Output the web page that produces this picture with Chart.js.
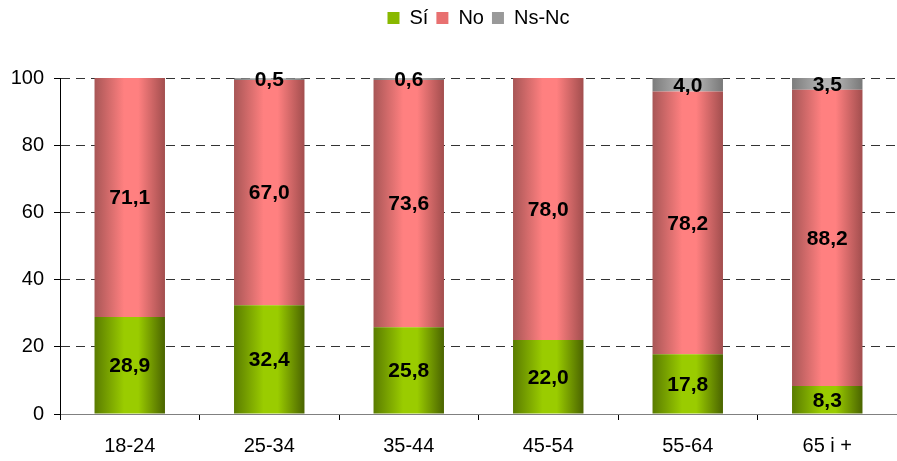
<!DOCTYPE html>
<html>
<head>
<meta charset="utf-8">
<script src="https://cdn.jsdelivr.net/npm/chart.js@4/dist/chart.umd.min.js"></script>
<style>
  html, body { margin: 0; padding: 0; background: #fff; overflow: hidden; }
  #wrap { width: 897px; height: 461px; position: relative; }
</style>
</head>
<body>
<div id="wrap"><canvas id="chart"></canvas></div>
<script>
const categories = ['18-24', '25-34', '35-44', '45-54', '55-64', '65 i +'];
const siValues = [28.9, 32.4, 25.8, 22.0, 17.8, 8.3];
const noValues = [71.1, 67.0, 73.6, 78.0, 78.2, 88.2];
const nsncValues = [0, 0.5, 0.6, 0, 4.0, 3.5];
const yTicks = [0, 20, 40, 60, 80, 100];

const BAR_PCT = 0.505;
const FONT = '"Liberation Sans", Arial, sans-serif';

// horizontal shading: dark edges, light band a little left of centre
function barGradient(stops, fallback) {
  return (context) => {
    const chart = context.chart;
    const xScale = chart.scales.x;
    if (!chart.chartArea || !xScale || context.dataIndex === undefined) {
      return fallback;
    }
    const step = xScale.width / categories.length;
    const center = xScale.getPixelForValue(context.dataIndex);
    const half = (step * BAR_PCT) / 2;
    const g = chart.ctx.createLinearGradient(center - half, 0, center + half, 0);
    g.addColorStop(0, stops[0]);
    g.addColorStop(0.42, stops[1]);
    g.addColorStop(0.62, stops[1]);
    g.addColorStop(1, stops[2]);
    return g;
  };
}

const valueLabels = {
  id: 'valueLabels',
  afterDatasetsDraw(chart) {
    const ctx = chart.ctx;
    ctx.save();
    ctx.font = 'bold 21px ' + FONT;
    ctx.fillStyle = '#000';
    ctx.textAlign = 'center';
    ctx.textBaseline = 'middle';
    chart.data.datasets.forEach((ds, i) => {
      const meta = chart.getDatasetMeta(i);
      meta.data.forEach((bar, j) => {
        const v = ds.data[j];
        if (!v) return;
        const y = (bar.y + bar.base) / 2;
        ctx.fillText(v.toFixed(1).replace('.', ','), bar.x, y + 1);
      });
    });
    ctx.restore();
  },
};

// extra room under the legend, and legend centred over the plot area
const legendLayout = {
  id: 'legendLayout',
  beforeInit(chart) {
    const fit = chart.legend.fit;
    chart.legend.fit = function () {
      fit.call(this);
      this.height += 40;
    };
  },
  afterLayout(chart) {
    chart.legend.left = chart.chartArea.left;
    chart.legend.right = chart.chartArea.right;
    chart.legend.width = chart.chartArea.right - chart.chartArea.left;
  },
};

new Chart(document.getElementById('chart'), {
  type: 'bar',
  data: {
    labels: categories,
    datasets: [
      {
        label: 'Sí',
        data: siValues,
        backgroundColor: barGradient(['#5a7c00', '#9acc00', '#4a6400'], '#88b800'),
        legendColor: '#88b800',
      },
      {
        label: 'No',
        data: noValues,
        backgroundColor: barGradient(['#a85656', '#ff8080', '#a24e4e'], '#e87070'),
        legendColor: '#e87070',
      },
      {
        label: 'Ns-Nc',
        data: nsncValues,
        backgroundColor: barGradient(['#7c7c7c', '#b4b4b4', '#787878'], '#999999'),
        legendColor: '#999999',
      },
    ],
  },
  options: {
    responsive: true,
    maintainAspectRatio: false,
    animation: false,
    layout: { padding: { top: 0, right: -7, left: 0, bottom: -11 } },
    datasets: {
      bar: {
        barPercentage: BAR_PCT,
        categoryPercentage: 1,
        borderWidth: 0,
      },
    },
    scales: {
      x: {
        stacked: true,
        grid: {
          offset: true,
          drawOnChartArea: false,
          drawTicks: true,
          tickLength: 6,
          tickColor: '#000',
        },
        border: { color: '#808080', width: 1 },
        ticks: {
          color: '#000',
          padding: 14,
          font: { family: FONT, size: 20 },
        },
      },
      y: {
        stacked: true,
        min: 0,
        max: 100,
        afterBuildTicks: (axis) => {
          axis.ticks = yTicks.map((v) => ({ value: v }));
        },
        afterFit: (axis) => {
          axis.width = 60;
        },
        grid: {
          color: (c) => (c.tick && c.tick.value === 0 ? 'rgba(0,0,0,0)' : '#333333'),
          tickLength: 6,
          tickColor: '#000',
          tickBorderDash: [],
        },
        border: { color: '#000', width: 1, dash: [9, 6] },
        ticks: {
          color: '#000',
          padding: 10,
          font: { family: FONT, size: 20 },
        },
      },
    },
    plugins: {
      legend: {
        position: 'top',
        labels: {
          boxWidth: 12,
          boxHeight: 12,
          padding: 8,
          color: '#000',
          font: { family: FONT, size: 20 },
          generateLabels: (chart) =>
            chart.data.datasets.map((ds, i) => ({
              text: ds.label,
              fillStyle: ds.legendColor,
              strokeStyle: ds.legendColor,
              lineWidth: 0,
              datasetIndex: i,
            })),
        },
      },
      tooltip: { enabled: false },
    },
  },
  plugins: [valueLabels, legendLayout],
});
</script>
</body>
</html>
